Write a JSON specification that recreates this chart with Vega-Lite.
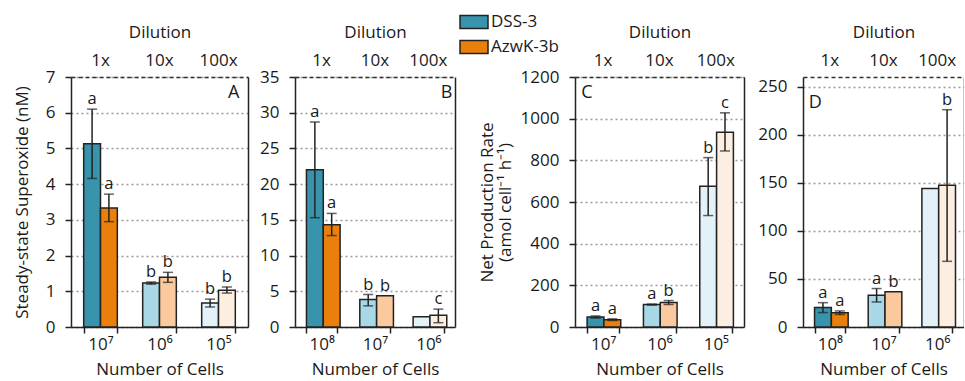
{
  "$schema": "https://vega.github.io/schema/vega-lite/v6.json",
  "padding": {"left": 13, "top": 7, "right": 0, "bottom": 0},
  "config": {
    "font": "Open Sans",
    "view": {"stroke": null},
    "axis": {
      "labelFont": "Open Sans", "titleFont": "Open Sans", "labelFontSize": 17, "titleFontSize": 17,
      "titleFontWeight": "normal", "labelColor": "#1a1a1a", "titleColor": "#1a1a1a",
      "domainColor": "#222", "tickColor": "#222", "domainWidth": 1.5, "tickWidth": 1.5,
      "gridColor": "#9a9a9a", "gridDash": [2, 3], "gridWidth": 1.5
    },
    "legend": {"labelFont": "Open Sans", "labelFontSize": 17, "labelColor": "#1a1a1a"}
  },
  "datasets": {
    "bars": [
      {"p": "A", "d": "1x", "s": "DSS-3", "v": 5.13, "lo": 4.16, "hi": 6.1, "L": "a"},
      {"p": "A", "d": "1x", "s": "AzwK-3b", "v": 3.33, "lo": 2.95, "hi": 3.72, "L": "a"},
      {"p": "A", "d": "10x", "s": "DSS-3", "v": 1.23, "lo": 1.2, "hi": 1.26, "L": "b"},
      {"p": "A", "d": "10x", "s": "AzwK-3b", "v": 1.39, "lo": 1.25, "hi": 1.53, "L": "b"},
      {"p": "A", "d": "100x", "s": "DSS-3", "v": 0.67, "lo": 0.56, "hi": 0.78, "L": "b"},
      {"p": "A", "d": "100x", "s": "AzwK-3b", "v": 1.03, "lo": 0.95, "hi": 1.12, "L": "b"},
      {"p": "B", "d": "1x", "s": "DSS-3", "v": 22.0, "lo": 15.3, "hi": 28.7, "L": "a"},
      {"p": "B", "d": "1x", "s": "AzwK-3b", "v": 14.3, "lo": 12.8, "hi": 15.9, "L": "a"},
      {"p": "B", "d": "10x", "s": "DSS-3", "v": 3.85, "lo": 2.96, "hi": 4.55, "L": "b"},
      {"p": "B", "d": "10x", "s": "AzwK-3b", "v": 4.37, "lo": null, "hi": null, "L": "b"},
      {"p": "B", "d": "100x", "s": "DSS-3", "v": 1.45, "lo": null, "hi": null, "L": null},
      {"p": "B", "d": "100x", "s": "AzwK-3b", "v": 1.65, "lo": 0.6, "hi": 2.5, "L": "c"},
      {"p": "C", "d": "1x", "s": "DSS-3", "v": 48, "lo": 43, "hi": 53, "L": "a"},
      {"p": "C", "d": "1x", "s": "AzwK-3b", "v": 35, "lo": 31, "hi": 39, "L": "a"},
      {"p": "C", "d": "10x", "s": "DSS-3", "v": 108, "lo": 105, "hi": 110, "L": "a"},
      {"p": "C", "d": "10x", "s": "AzwK-3b", "v": 118, "lo": 108, "hi": 127, "L": "b"},
      {"p": "C", "d": "100x", "s": "DSS-3", "v": 676, "lo": 535, "hi": 813, "L": "b"},
      {"p": "C", "d": "100x", "s": "AzwK-3b", "v": 935, "lo": 845, "hi": 1028, "L": "c"},
      {"p": "D", "d": "1x", "s": "DSS-3", "v": 20.3, "lo": 15, "hi": 25.3, "L": "a"},
      {"p": "D", "d": "1x", "s": "AzwK-3b", "v": 14.7, "lo": 13, "hi": 16.7, "L": "a"},
      {"p": "D", "d": "10x", "s": "DSS-3", "v": 33, "lo": 26, "hi": 40, "L": "a"},
      {"p": "D", "d": "10x", "s": "AzwK-3b", "v": 36.7, "lo": null, "hi": null, "L": "b"},
      {"p": "D", "d": "100x", "s": "DSS-3", "v": 144, "lo": null, "hi": null, "L": null},
      {"p": "D", "d": "100x", "s": "AzwK-3b", "v": 147.3, "lo": 68.3, "hi": 226, "L": "b"}
    ]
  },
  "hconcat": [
    {
      "spacing": 11,
      "hconcat": [
        {
          "width": 177, "height": 250,
          "data": {"name": "bars"},
          "transform": [
            {"filter": "datum.p === 'A'"},
            {"calculate": "datum.s + '|' + datum.d", "as": "key"},
            {"calculate": "datum.hi != null ? datum.hi : datum.v", "as": "top"}
          ],
          "encoding": {
            "x": {"field": "d", "type": "nominal", "sort": ["1x", "10x", "100x"], "scale": {"paddingInner": 0.43, "paddingOuter": 0.215}, "axis": null},
            "xOffset": {"field": "s", "type": "nominal", "sort": ["DSS-3", "AzwK-3b"], "scale": {"paddingInner": 0, "paddingOuter": 0}}
          },
          "layer": [
            {
              "mark": {"type": "bar", "stroke": "#222", "strokeWidth": 1.5},
              "encoding": {
                "x": {"field": "d", "type": "nominal", "sort": ["1x", "10x", "100x"], "scale": {"paddingInner": 0.43, "paddingOuter": 0.215},
                  "axis": {"orient": "bottom", "title": "Number of Cells", "labelAngle": 0, "tickBand": "extent", "tickSize": 6, "labelPadding": 3, "titlePadding": 9,
                    "labelExpr": "datum.value === '1x' ? '10⁷' : datum.value === '10x' ? '10⁶' : datum.value === '100x' ? '10⁵' : ''"}},
                "y": {"field": "v", "type": "quantitative", "scale": {"domain": [0, 7]},
                  "axis": {"orient": "left", "title": "Steady-state Superoxide (nM)", "values": [0, 1, 2, 3, 4, 5, 6, 7], "format": "d", "tickSize": 6, "labelPadding": 10, "titlePadding": 14, "grid": true}},
                "fill": {"field": "key", "type": "nominal",
                  "scale": {"domain": ["DSS-3|1x", "AzwK-3b|1x", "DSS-3|10x", "AzwK-3b|10x", "DSS-3|100x", "AzwK-3b|100x"],
                    "range": ["#3794ac", "#ea7f0c", "#a8d8e6", "#fbc99e", "#e3f2f8", "#fdeee2"]},
                  "legend": {"orient": "none", "legendX": 388, "legendY": -70, "title": null, "values": ["DSS-3|1x", "AzwK-3b|1x"],
                    "labelExpr": "split(datum.value, '|')[0]", "symbolType": "M-1,-0.46H1V0.46H-1Z", "symbolSize": 784,
                    "symbolStrokeColor": "#222", "symbolStrokeWidth": 1.5, "rowPadding": 0, "labelOffset": 2, "padding": 0}}
              }
            },
            {
              "mark": {"type": "rule", "color": "#222", "strokeWidth": 1.5},
              "encoding": {
                "x": {"field": "d", "type": "nominal", "sort": ["1x", "10x", "100x"], "scale": {"paddingInner": 0.43, "paddingOuter": 0.215},
                  "axis": {"orient": "top", "title": "Dilution", "labelAngle": 0, "domain": true, "domainDash": [4, 3], "domainColor": "#333", "ticks": false, "labelPadding": 8, "titlePadding": 10}},
                "y": {"field": "lo", "type": "quantitative", "scale": {"domain": [0, 7]},
                  "axis": {"orient": "right", "title": null, "labels": false, "ticks": false, "grid": false, "domain": true}},
                "y2": {"field": "hi"}
              }
            },
            {
              "mark": {"type": "tick", "orient": "horizontal", "size": 10, "thickness": 1.5, "color": "#222"},
              "encoding": {"y": {"field": "lo", "type": "quantitative", "scale": {"domain": [0, 7]}, "axis": null}}
            },
            {
              "mark": {"type": "tick", "orient": "horizontal", "size": 10, "thickness": 1.5, "color": "#222"},
              "encoding": {"y": {"field": "hi", "type": "quantitative", "scale": {"domain": [0, 7]}, "axis": null}}
            },
            {
              "transform": [{"filter": "datum.L != null"}],
              "mark": {"type": "text", "baseline": "alphabetic", "dy": -5, "fontSize": 16.5, "color": "#1a1a1a"},
              "encoding": {"y": {"field": "top", "type": "quantitative", "scale": {"domain": [0, 7]}, "axis": null}, "text": {"field": "L"}}
            },
            {
              "data": {"values": [{"p": "A", "label": "A"}]},
              "mark": {"type": "text", "align": "right", "baseline": "top", "dx": 21, "dy": 7, "fontSize": 18, "color": "#1a1a1a"},
              "encoding": {"x": {"datum": "100x", "type": "nominal", "axis": null}, "xOffset": null, "y": {"datum": 7, "type": "quantitative", "axis": null}, "text": {"field": "label"}}
            }
          ],
          "resolve": {"axis": {"x": "independent", "y": "independent"}}
        },
        {
          "width": 160, "height": 250,
          "data": {"name": "bars"},
          "transform": [
            {"filter": "datum.p === 'B'"},
            {"calculate": "datum.s + '|' + datum.d", "as": "key"},
            {"calculate": "datum.hi != null ? datum.hi : datum.v", "as": "top"}
          ],
          "encoding": {
            "x": {"field": "d", "type": "nominal", "sort": ["1x", "10x", "100x"], "scale": {"paddingInner": 0.43, "paddingOuter": 0.215}, "axis": null},
            "xOffset": {"field": "s", "type": "nominal", "sort": ["DSS-3", "AzwK-3b"], "scale": {"paddingInner": 0, "paddingOuter": 0}}
          },
          "layer": [
            {
              "mark": {"type": "bar", "stroke": "#222", "strokeWidth": 1.5},
              "encoding": {
                "x": {"field": "d", "type": "nominal", "sort": ["1x", "10x", "100x"], "scale": {"paddingInner": 0.43, "paddingOuter": 0.215},
                  "axis": {"orient": "bottom", "title": "Number of Cells", "labelAngle": 0, "tickBand": "extent", "tickSize": 6, "labelPadding": 3, "titlePadding": 9,
                    "labelExpr": "datum.value === '1x' ? '10⁸' : datum.value === '10x' ? '10⁷' : datum.value === '100x' ? '10⁶' : ''"}},
                "y": {"field": "v", "type": "quantitative", "scale": {"domain": [0, 35]},
                  "axis": {"orient": "left", "title": null, "values": [0, 5, 10, 15, 20, 25, 30, 35], "format": "d", "tickSize": 6, "labelPadding": 10, "grid": true}},
                "fill": {"field": "key", "type": "nominal", "legend": null,
                  "scale": {"domain": ["DSS-3|1x", "AzwK-3b|1x", "DSS-3|10x", "AzwK-3b|10x", "DSS-3|100x", "AzwK-3b|100x"],
                    "range": ["#3794ac", "#ea7f0c", "#a8d8e6", "#fbc99e", "#e3f2f8", "#fdeee2"]}}
              }
            },
            {
              "mark": {"type": "rule", "color": "#222", "strokeWidth": 1.5},
              "encoding": {
                "x": {"field": "d", "type": "nominal", "sort": ["1x", "10x", "100x"], "scale": {"paddingInner": 0.43, "paddingOuter": 0.215},
                  "axis": {"orient": "top", "title": "Dilution", "labelAngle": 0, "domain": true, "domainDash": [4, 3], "domainColor": "#333", "ticks": false, "labelPadding": 8, "titlePadding": 10}},
                "y": {"field": "lo", "type": "quantitative", "scale": {"domain": [0, 35]},
                  "axis": {"orient": "right", "title": null, "labels": false, "ticks": false, "grid": false, "domain": true}},
                "y2": {"field": "hi"}
              }
            },
            {
              "mark": {"type": "tick", "orient": "horizontal", "size": 10, "thickness": 1.5, "color": "#222"},
              "encoding": {"y": {"field": "lo", "type": "quantitative", "scale": {"domain": [0, 35]}, "axis": null}}
            },
            {
              "mark": {"type": "tick", "orient": "horizontal", "size": 10, "thickness": 1.5, "color": "#222"},
              "encoding": {"y": {"field": "hi", "type": "quantitative", "scale": {"domain": [0, 35]}, "axis": null}}
            },
            {
              "transform": [{"filter": "datum.L != null"}],
              "mark": {"type": "text", "baseline": "alphabetic", "dy": -5, "fontSize": 16.5, "color": "#1a1a1a"},
              "encoding": {"y": {"field": "top", "type": "quantitative", "scale": {"domain": [0, 35]}, "axis": null}, "text": {"field": "L"}}
            },
            {
              "data": {"values": [{"p": "B", "label": "B"}]},
              "mark": {"type": "text", "align": "right", "baseline": "top", "dx": 24, "dy": 7, "fontSize": 18, "color": "#1a1a1a"},
              "encoding": {"x": {"datum": "100x", "type": "nominal", "axis": null}, "xOffset": null, "y": {"datum": 35, "type": "quantitative", "axis": null}, "text": {"field": "label"}}
            }
          ],
          "resolve": {"axis": {"x": "independent", "y": "independent"}}
        }
      ]
    },
    {
      "spacing": 13,
      "hconcat": [
        {
          "width": 169, "height": 250,
          "data": {"name": "bars"},
          "transform": [
            {"filter": "datum.p === 'C'"},
            {"calculate": "datum.s + '|' + datum.d", "as": "key"},
            {"calculate": "datum.hi != null ? datum.hi : datum.v", "as": "top"}
          ],
          "encoding": {
            "x": {"field": "d", "type": "nominal", "sort": ["1x", "10x", "100x"], "scale": {"paddingInner": 0.43, "paddingOuter": 0.215}, "axis": null},
            "xOffset": {"field": "s", "type": "nominal", "sort": ["DSS-3", "AzwK-3b"], "scale": {"paddingInner": 0, "paddingOuter": 0}}
          },
          "layer": [
            {
              "mark": {"type": "bar", "stroke": "#222", "strokeWidth": 1.5},
              "encoding": {
                "x": {"field": "d", "type": "nominal", "sort": ["1x", "10x", "100x"], "scale": {"paddingInner": 0.43, "paddingOuter": 0.215},
                  "axis": {"orient": "bottom", "title": "Number of Cells", "labelAngle": 0, "tickBand": "extent", "tickSize": 6, "labelPadding": 3, "titlePadding": 9,
                    "labelExpr": "datum.value === '1x' ? '10⁷' : datum.value === '10x' ? '10⁶' : datum.value === '100x' ? '10⁵' : ''"}},
                "y": {"field": "v", "type": "quantitative", "scale": {"domain": [0, 1200]},
                  "axis": {"orient": "left", "title": ["Net Production Rate", "(amol cell⁻¹ h⁻¹)"], "titleLineHeight": 18, "values": [0, 200, 400, 600, 800, 1000, 1200], "format": "d", "tickSize": 6, "labelPadding": 10, "titlePadding": 6, "grid": true}},
                "fill": {"field": "key", "type": "nominal", "legend": null,
                  "scale": {"domain": ["DSS-3|1x", "AzwK-3b|1x", "DSS-3|10x", "AzwK-3b|10x", "DSS-3|100x", "AzwK-3b|100x"],
                    "range": ["#3794ac", "#ea7f0c", "#a8d8e6", "#fbc99e", "#e3f2f8", "#fdeee2"]}}
              }
            },
            {
              "mark": {"type": "rule", "color": "#222", "strokeWidth": 1.5},
              "encoding": {
                "x": {"field": "d", "type": "nominal", "sort": ["1x", "10x", "100x"], "scale": {"paddingInner": 0.43, "paddingOuter": 0.215},
                  "axis": {"orient": "top", "title": "Dilution", "labelAngle": 0, "domain": true, "domainDash": [4, 3], "domainColor": "#333", "ticks": false, "labelPadding": 8, "titlePadding": 10}},
                "y": {"field": "lo", "type": "quantitative", "scale": {"domain": [0, 1200]},
                  "axis": {"orient": "right", "title": null, "labels": false, "ticks": false, "grid": false, "domain": true}},
                "y2": {"field": "hi"}
              }
            },
            {
              "mark": {"type": "tick", "orient": "horizontal", "size": 10, "thickness": 1.5, "color": "#222"},
              "encoding": {"y": {"field": "lo", "type": "quantitative", "scale": {"domain": [0, 1200]}, "axis": null}}
            },
            {
              "mark": {"type": "tick", "orient": "horizontal", "size": 10, "thickness": 1.5, "color": "#222"},
              "encoding": {"y": {"field": "hi", "type": "quantitative", "scale": {"domain": [0, 1200]}, "axis": null}}
            },
            {
              "transform": [{"filter": "datum.L != null"}],
              "mark": {"type": "text", "baseline": "alphabetic", "dy": -5, "fontSize": 16.5, "color": "#1a1a1a"},
              "encoding": {"y": {"field": "top", "type": "quantitative", "scale": {"domain": [0, 1200]}, "axis": null}, "text": {"field": "L"}}
            },
            {
              "data": {"values": [{"p": "C", "label": "C"}]},
              "mark": {"type": "text", "align": "left", "baseline": "top", "dx": -22, "dy": 7, "fontSize": 18, "color": "#1a1a1a"},
              "encoding": {"x": {"datum": "1x", "type": "nominal", "axis": null}, "xOffset": null, "y": {"datum": 1200, "type": "quantitative", "axis": null}, "text": {"field": "label"}}
            }
          ],
          "resolve": {"axis": {"x": "independent", "y": "independent"}}
        },
        {
          "width": 161, "height": 250,
          "data": {"name": "bars"},
          "transform": [
            {"filter": "datum.p === 'D'"},
            {"calculate": "datum.s + '|' + datum.d", "as": "key"},
            {"calculate": "datum.hi != null ? datum.hi : datum.v", "as": "top"}
          ],
          "encoding": {
            "x": {"field": "d", "type": "nominal", "sort": ["1x", "10x", "100x"], "scale": {"paddingInner": 0.43, "paddingOuter": 0.215}, "axis": null},
            "xOffset": {"field": "s", "type": "nominal", "sort": ["DSS-3", "AzwK-3b"], "scale": {"paddingInner": 0, "paddingOuter": 0}}
          },
          "layer": [
            {
              "mark": {"type": "bar", "stroke": "#222", "strokeWidth": 1.5},
              "encoding": {
                "x": {"field": "d", "type": "nominal", "sort": ["1x", "10x", "100x"], "scale": {"paddingInner": 0.43, "paddingOuter": 0.215},
                  "axis": {"orient": "bottom", "title": "Number of Cells", "labelAngle": 0, "tickBand": "extent", "tickSize": 6, "labelPadding": 3, "titlePadding": 9,
                    "labelExpr": "datum.value === '1x' ? '10⁸' : datum.value === '10x' ? '10⁷' : datum.value === '100x' ? '10⁶' : ''"}},
                "y": {"field": "v", "type": "quantitative", "scale": {"domain": [0, 250]},
                  "axis": {"orient": "left", "title": null, "values": [0, 50, 100, 150, 200, 250], "format": "d", "tickSize": 6, "labelPadding": 10, "grid": true}},
                "fill": {"field": "key", "type": "nominal", "legend": null,
                  "scale": {"domain": ["DSS-3|1x", "AzwK-3b|1x", "DSS-3|10x", "AzwK-3b|10x", "DSS-3|100x", "AzwK-3b|100x"],
                    "range": ["#3794ac", "#ea7f0c", "#a8d8e6", "#fbc99e", "#e3f2f8", "#fdeee2"]}}
              }
            },
            {
              "mark": {"type": "rule", "color": "#222", "strokeWidth": 1.5},
              "encoding": {
                "x": {"field": "d", "type": "nominal", "sort": ["1x", "10x", "100x"], "scale": {"paddingInner": 0.43, "paddingOuter": 0.215},
                  "axis": {"orient": "top", "title": "Dilution", "labelAngle": 0, "domain": true, "domainDash": [4, 3], "domainColor": "#333", "ticks": false, "labelPadding": 8, "titlePadding": 10}},
                "y": {"field": "lo", "type": "quantitative", "scale": {"domain": [0, 250]},
                  "axis": {"orient": "right", "title": null, "labels": false, "ticks": false, "grid": false, "domain": true}},
                "y2": {"field": "hi"}
              }
            },
            {
              "mark": {"type": "tick", "orient": "horizontal", "size": 10, "thickness": 1.5, "color": "#222"},
              "encoding": {"y": {"field": "lo", "type": "quantitative", "scale": {"domain": [0, 250]}, "axis": null}}
            },
            {
              "mark": {"type": "tick", "orient": "horizontal", "size": 10, "thickness": 1.5, "color": "#222"},
              "encoding": {"y": {"field": "hi", "type": "quantitative", "scale": {"domain": [0, 250]}, "axis": null}}
            },
            {
              "transform": [{"filter": "datum.L != null"}],
              "mark": {"type": "text", "baseline": "alphabetic", "dy": -5, "fontSize": 16.5, "color": "#1a1a1a"},
              "encoding": {"y": {"field": "top", "type": "quantitative", "scale": {"domain": [0, 250]}, "axis": null}, "text": {"field": "L"}}
            },
            {
              "data": {"values": [{"p": "D", "label": "D"}]},
              "mark": {"type": "text", "align": "left", "baseline": "top", "dx": -21, "dy": 7, "fontSize": 18, "color": "#1a1a1a"},
              "encoding": {"x": {"datum": "1x", "type": "nominal", "axis": null}, "xOffset": null, "y": {"datum": 250, "type": "quantitative", "axis": null}, "text": {"field": "label"}}
            }
          ],
          "resolve": {"axis": {"x": "independent", "y": "independent"}}
        }
      ]
    }
  ],
  "spacing": 23,
  "resolve": {"scale": {"fill": "shared"}, "legend": {"fill": "shared"}}
}
